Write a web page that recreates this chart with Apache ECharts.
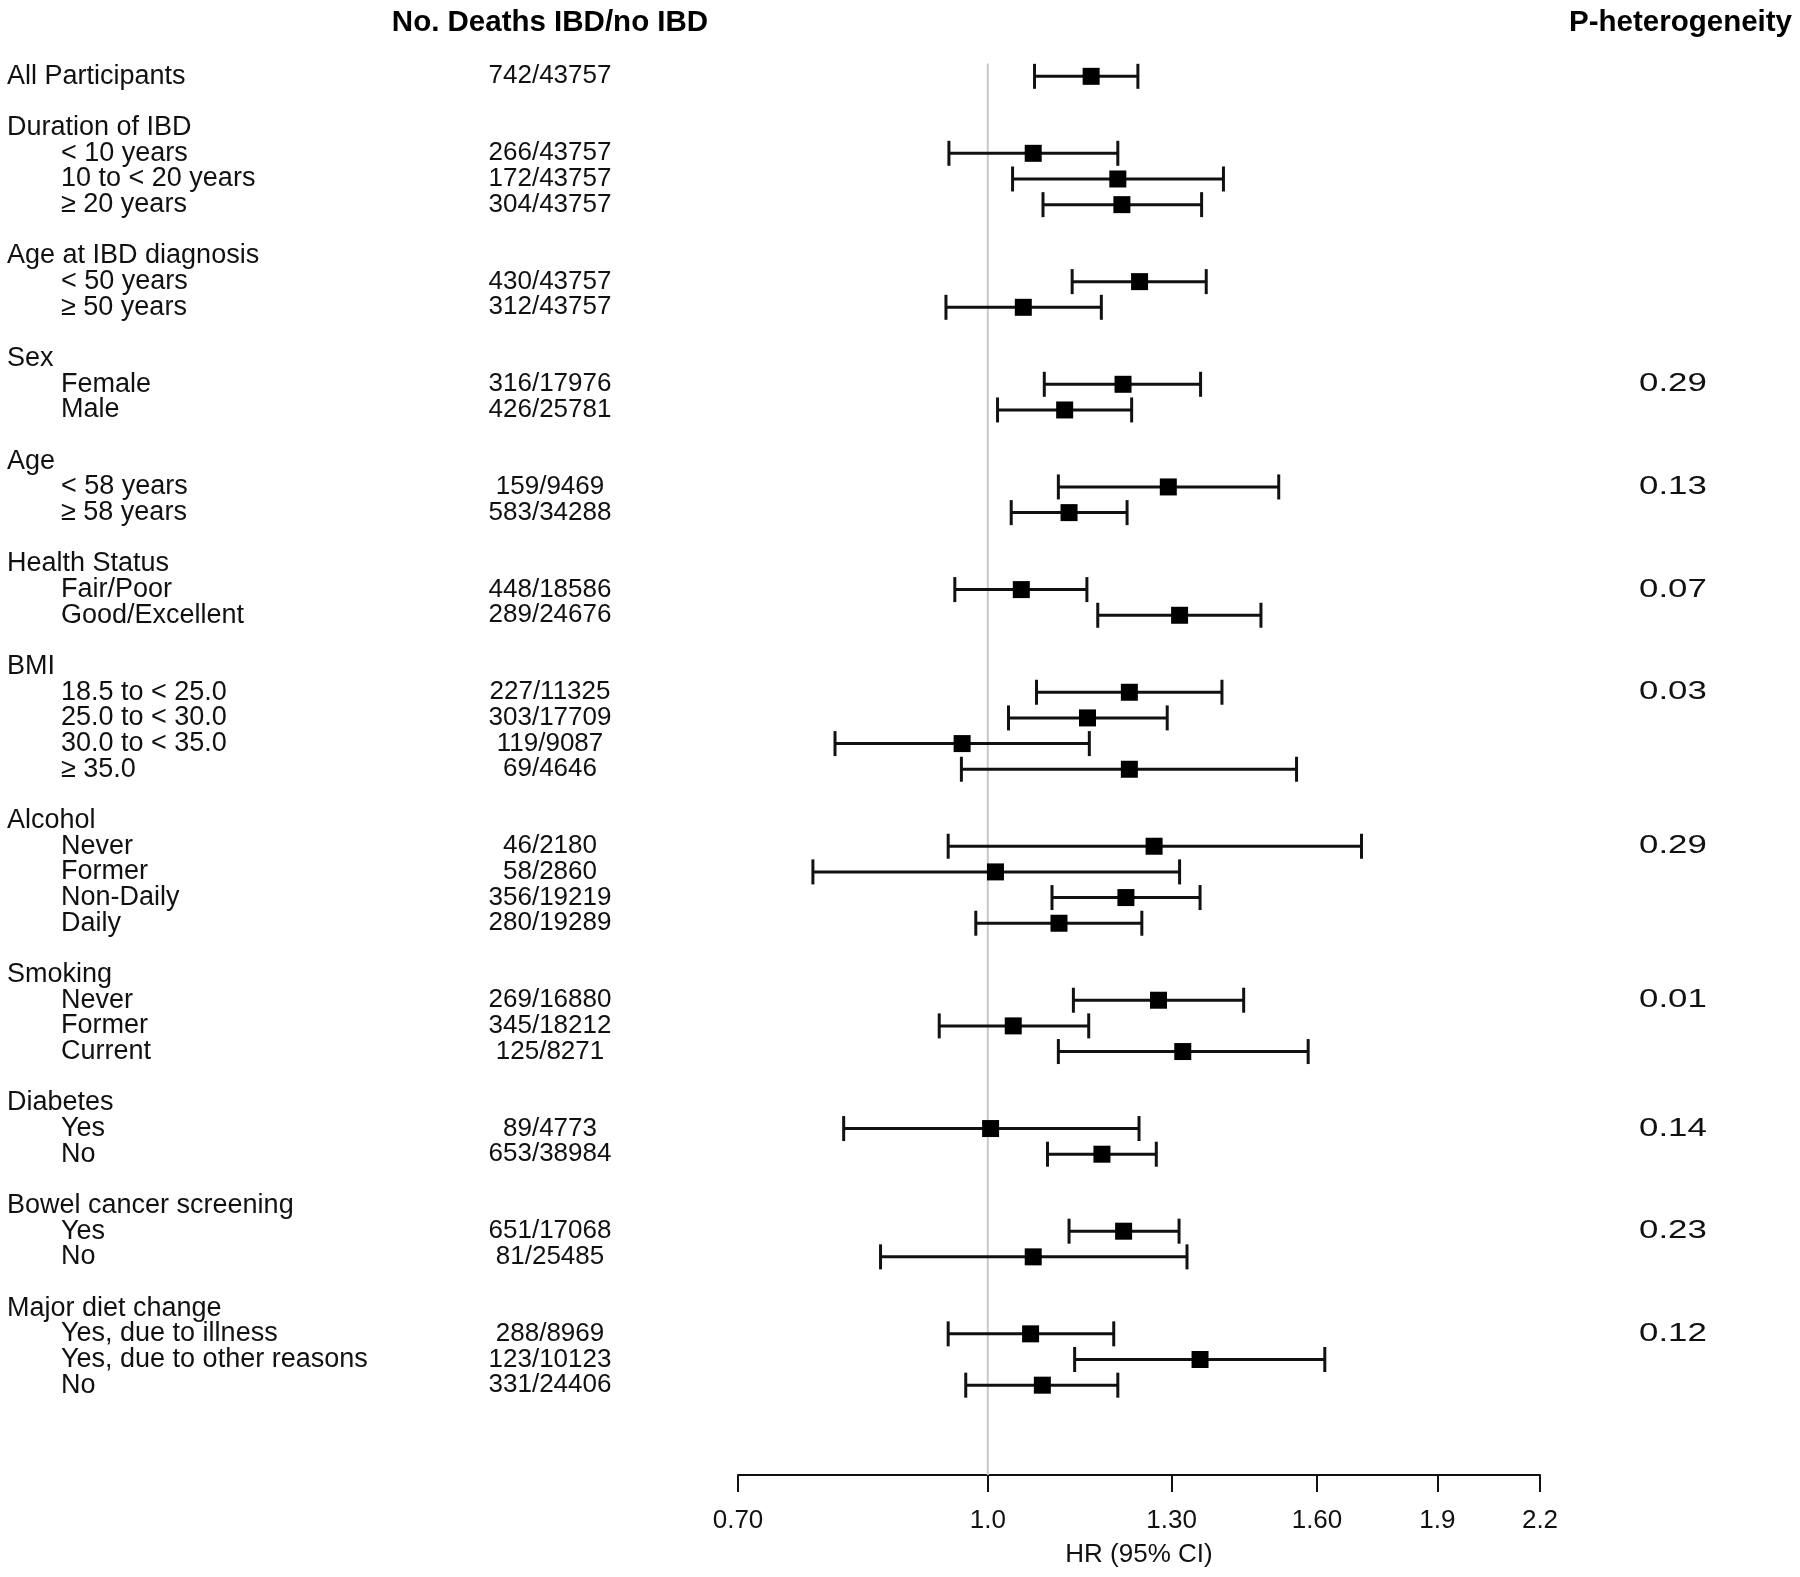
<!DOCTYPE html>
<html>
<head>
<meta charset="utf-8">
<script src="https://cdn.jsdelivr.net/npm/echarts@6/dist/echarts.min.js"></script>
<style>
html,body{margin:0;padding:0;background:#fff;}
#chart{width:1800px;height:1577px;}
</style>
</head>
<body>
<div id="chart"></div>
<script>
// ---- data ----
const rowLabels = ['All Participants','Duration of IBD','< 10 years','10 to < 20 years','≥ 20 years',
  'Age at IBD diagnosis','< 50 years','≥ 50 years','Sex','Female','Male','Age','< 58 years','≥ 58 years',
  'Health Status','Fair/Poor','Good/Excellent','BMI','18.5 to < 25.0','25.0 to < 30.0','30.0 to < 35.0','≥ 35.0',
  'Alcohol','Never','Former','Non-Daily','Daily','Smoking','Never','Former','Current',
  'Diabetes','Yes','No','Bowel cancer screening','Yes','No','Major diet change',
  'Yes, due to illness','Yes, due to other reasons','No'];
const rowIndent = [0,0,1,1,1, 0,1,1, 0,1,1, 0,1,1, 0,1,1, 0,1,1,1,1, 0,1,1,1,1, 0,1,1,1, 0,1,1, 0,1,1, 0,1,1,1];
const rowPos = [0,2,3,4,5, 7,8,9, 11,12,13, 15,16,17, 19,20,21, 23,24,25,26,27, 29,30,31,32,33, 35,36,37,38, 40,41,42, 44,45,46, 48,49,50,51];
const counts = ['742/43757','','266/43757','172/43757','304/43757',
  '','430/43757','312/43757','','316/17976','426/25781','','159/9469','583/34288',
  '','448/18586','289/24676','','227/11325','303/17709','119/9087','69/4646',
  '','46/2180','58/2860','356/19219','280/19289','','269/16880','345/18212','125/8271',
  '','89/4773','653/38984','','651/17068','81/25485','','288/8969','123/10123','331/24406'];
const pHet = ['','','','','', '','','', '','0.29','', '','0.13','', '','0.07','', '','0.03','','','',
  '','0.29','','','', '','0.01','','', '','0.14','', '','0.23','', '','0.12','',''];
const hrEst = [1.159,null,1.067,1.204,1.211, null,1.242,1.052, null,1.213,1.116, null,1.294,1.123,
  null,1.049,1.315, null,1.224,1.153,0.964,1.224, null,1.268,1.011,1.218,1.107,
  null,1.276,1.037,1.321, null,1.004,1.177, null,1.214,1.067, null,1.063,1.354,1.081];
const ciLow = [1.069,null,0.946,1.036,1.082, null,1.128,0.942, null,1.084,1.014, null,1.106,1.034,
  null,0.954,1.170, null,1.072,1.030,0.804,0.963, null,0.945,0.779,1.096,0.983,
  null,1.130,0.933,1.106, null,0.814,1.089, null,1.123,0.858, null,0.945,1.132,0.969];
const ciHigh = [1.239,null,1.204,1.400,1.357, null,1.366,1.176, null,1.355,1.228, null,1.515,1.220,
  null,1.152,1.477, null,1.397,1.292,1.156,1.554, null,1.705,1.315,1.354,1.246,
  null,1.441,1.155,1.580, null,1.241,1.272, null,1.314,1.329, null,1.197,1.618,1.204];
const tickValues = [0.7,1.0,1.3,1.6,1.9,2.2];
const tickLabels = ['0.70','1.0','1.30','1.60','1.9','2.2'];
const headerCount = 'No. Deaths IBD/no IBD';
const headerP = 'P-heterogeneity';
const axisTitle = 'HR (95% CI)';
const refValue = 1.0;

// ---- layout ----
const FONT = "'Liberation Sans', Arial, sans-serif";
const TXT = '#111';
const LABEL_X = [7, 61];
const COUNT_X = 550;
const P_X = 1639;

const ciData = [], ptData = [];
rowPos.forEach((p, i) => {
  if (hrEst[i] != null) {
    ciData.push([ciLow[i], ciHigh[i], p]);
    ptData.push([hrEst[i], p]);
  }
});

const chart = echarts.init(document.getElementById('chart'), null, {renderer: 'canvas'});
chart.setOption({
  animation: false,
  backgroundColor: '#fff',
  grid: {left: 738, right: 260, top: 25, bottom: 102, containLabel: false},
  xAxis: {
    type: 'log', logBase: 10, min: 0.7, max: 2.2,
    splitLine: {show: false},
    axisLine: {show: true, onZero: false, lineStyle: {color: '#111', width: 2}},
    axisTick: {show: true, customValues: tickValues, length: 17, lineStyle: {color: '#111', width: 2}},
    axisLabel: {
      customValues: tickValues, margin: 33, color: TXT, fontFamily: FONT, fontSize: 26,
      formatter: v => { for (let k = 0; k < tickValues.length; k++) if (Math.abs(tickValues[k] - v) < 1e-6) return tickLabels[k]; return ''; }
    },
    name: axisTitle, nameLocation: 'middle', nameGap: 67,
    nameTextStyle: {color: TXT, fontFamily: FONT, fontSize: 26}
  },
  yAxis: {
    type: 'value', inverse: true, min: -2, max: 54.5, show: false
  },
  series: [
    {
      type: 'line', data: [[refValue, -0.5], [refValue, 54.5]], symbol: 'none', silent: true,
      lineStyle: {color: '#c9c9c9', width: 2}, z: 1
    },
    {
      type: 'custom', z: 3, silent: true,
      data: ciData,
      encode: {x: [0, 1], y: 2},
      renderItem: (params, api) => {
        const a = api.coord([api.value(0), api.value(2)]);
        const b = api.coord([api.value(1), api.value(2)]);
        const h = 12.5;
        const st = {stroke: '#111', lineWidth: 3};
        return {type: 'group', children: [
          {type: 'line', shape: {x1: a[0], y1: a[1], x2: b[0], y2: b[1]}, style: st},
          {type: 'line', shape: {x1: a[0], y1: a[1] - h, x2: a[0], y2: a[1] + h}, style: st},
          {type: 'line', shape: {x1: b[0], y1: b[1] - h, x2: b[0], y2: b[1] + h}, style: st}
        ]};
      }
    },
    {
      type: 'scatter', z: 4, silent: true, data: ptData,
      symbol: 'rect', symbolSize: 17, itemStyle: {color: '#000', opacity: 1}
    },
    {
      type: 'custom', z: 5, silent: true, clip: false,
      data: rowPos.map(p => [refValue, p]),
      renderItem: (params, api) => {
        const i = params.dataIndex;
        const y = api.coord([refValue, api.value(1)])[1];
        const base = {fontFamily: FONT, fontSize: 27, fill: TXT, verticalAlign: 'middle'};
        const ch = [
          {type: 'text', style: Object.assign({}, base, {x: LABEL_X[rowIndent[i]], y: y, text: rowLabels[i], align: 'left'})}
        ];
        if (counts[i]) ch.push({type: 'text', style: Object.assign({}, base, {x: COUNT_X, y: y, text: counts[i], align: 'center', fontSize: 26})});
        if (pHet[i]) ch.push({type: 'text', x: P_X, y: y, scaleX: 1.34, scaleY: 1,
          style: Object.assign({}, base, {x: 0, y: 0, text: pHet[i], align: 'left', fontSize: 26})});
        return {type: 'group', children: ch};
      }
    },
    {
      type: 'custom', z: 5, silent: true, clip: false,
      data: [[refValue, -2]],
      renderItem: (params, api) => {
        const y = api.coord([refValue, api.value(1)])[1];
        const base = {fontFamily: FONT, fontSize: 29.5, fontWeight: 'bold', fill: '#000', verticalAlign: 'middle'};
        return {type: 'group', children: [
          {type: 'text', style: Object.assign({}, base, {x: COUNT_X, y: y - 2, text: headerCount, align: 'center'})},
          {type: 'text', style: Object.assign({}, base, {x: 1792, y: y - 2, text: headerP, align: 'right'})}
        ]};
      }
    }
  ]
});
</script>
</body>
</html>
